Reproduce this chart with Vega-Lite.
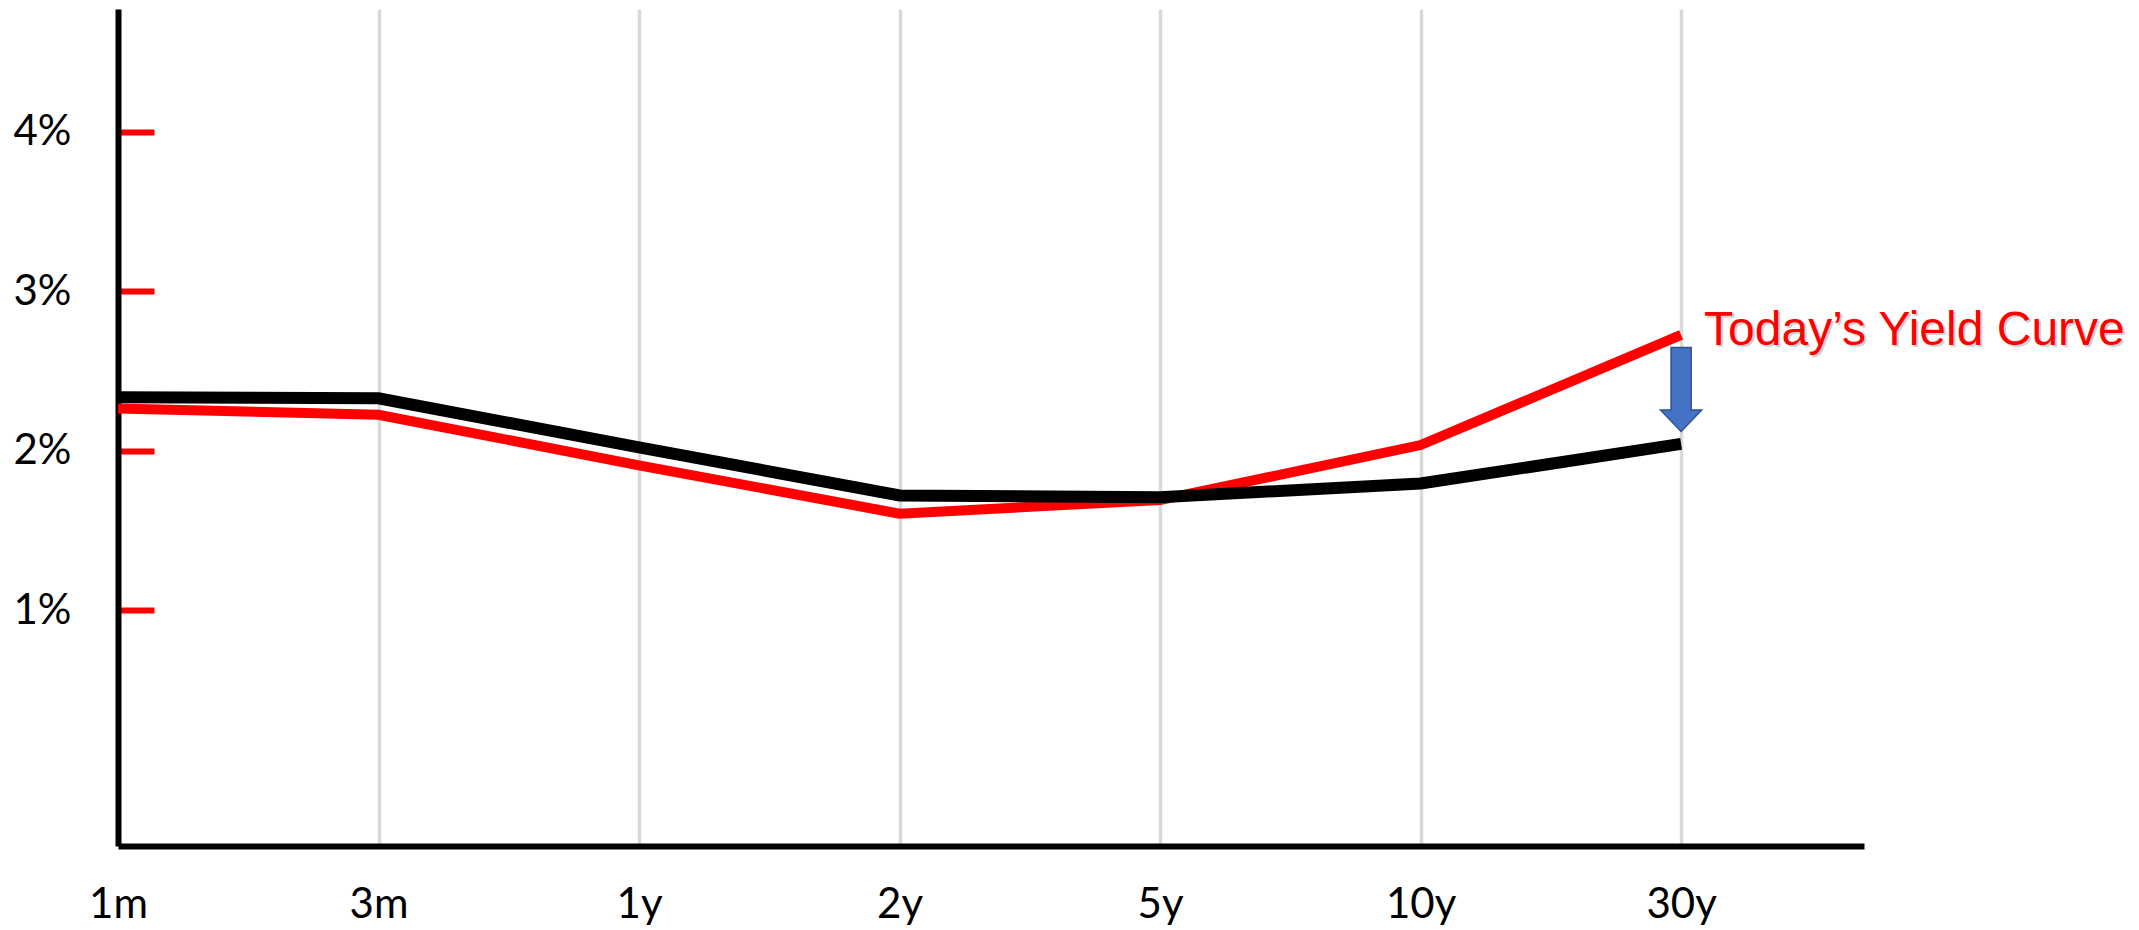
{
  "$schema": "https://vega.github.io/schema/vega-lite/v6.json",
  "width": 1746,
  "height": 837,
  "autosize": {"type": "none"},
  "padding": {"left": 118, "top": 9, "right": 275, "bottom": 84},
  "background": "white",
  "config": {"view": {"stroke": null}},
  "data": {
    "values": [
      {"curve": "today", "tenor": "1m", "rate": 2.265},
      {"curve": "today", "tenor": "3m", "rate": 2.226},
      {"curve": "today", "tenor": "1y", "rate": 1.909},
      {"curve": "today", "tenor": "2y", "rate": 1.606},
      {"curve": "today", "tenor": "5y", "rate": 1.692},
      {"curve": "today", "tenor": "10y", "rate": 2.036},
      {"curve": "today", "tenor": "30y", "rate": 2.726},
      {"curve": "new", "tenor": "1m", "rate": 2.335},
      {"curve": "new", "tenor": "3m", "rate": 2.329},
      {"curve": "new", "tenor": "1y", "rate": 2.022},
      {"curve": "new", "tenor": "2y", "rate": 1.72},
      {"curve": "new", "tenor": "5y", "rate": 1.709},
      {"curve": "new", "tenor": "10y", "rate": 1.795},
      {"curve": "new", "tenor": "30y", "rate": 2.043}
    ]
  },
  "encoding": {
    "x": {
      "field": "tenor",
      "type": "ordinal",
      "scale": {"type": "point", "domain": ["1m", "3m", "1y", "2y", "5y", "10y", "30y"], "padding": 0.351, "align": 0},
      "axis": {
        "title": null,
        "grid": true,
        "gridColor": "#D9D9D9",
        "gridWidth": 3.5,
        "ticks": false,
        "domainColor": "#000000",
        "domainWidth": 6,
        "labelFont": "Lato",
        "labelFontSize": 42,
        "labelColor": "#000000",
        "labelAngle": 0,
        "labelPadding": 38,
        "labelBaseline": "top"
      }
    },
    "y": {
      "field": "rate",
      "type": "quantitative",
      "scale": {"domain": [-0.476, 4.768], "nice": false, "zero": false},
      "axis": {
        "title": null,
        "grid": false,
        "values": [1, 2, 3, 4],
        "labelExpr": "datum.value + '%'",
        "domainColor": "#000000",
        "domainWidth": 6,
        "tickColor": "#FF0000",
        "tickWidth": 6,
        "tickSize": -36,
        "labelFont": "Lato",
        "labelFontSize": 42,
        "labelColor": "#000000",
        "labelPadding": 83
      }
    }
  },
  "layer": [
    {
      "transform": [{"filter": "datum.curve == 'today'"}],
      "mark": {"type": "line", "color": "#FF0000", "strokeWidth": 10, "strokeCap": "butt"}
    },
    {
      "transform": [{"filter": "datum.curve == 'new'"}],
      "mark": {"type": "line", "color": "#000000", "strokeWidth": 12, "strokeCap": "butt"}
    },
    {
      "transform": [{"filter": "datum.curve == 'today' && datum.tenor == '30y'"}],
      "mark": {"type": "text", "text": "Today’s Yield Curve", "font": "Liberation Sans", "fontSize": 48, "align": "left", "baseline": "alphabetic", "dx": 25, "dy": 12, "color": "#7F7F7F", "opacity": 0.35}
    },
    {
      "transform": [{"filter": "datum.curve == 'today' && datum.tenor == '30y'"}],
      "mark": {"type": "text", "text": "Today’s Yield Curve", "font": "Liberation Sans", "fontSize": 48, "align": "left", "baseline": "alphabetic", "dx": 23, "dy": 10, "color": "#FF0000"}
    },
    {
      "transform": [
        {"filter": "datum.tenor == '30y'"},
        {"aggregate": [{"op": "mean", "field": "rate", "as": "rate"}], "groupby": ["tenor"]}
      ],
      "mark": {
        "type": "point",
        "shape": "M-0.24,-1L0.24,-1L0.24,0.49L0.49,0.49L0,1L-0.49,0.49L-0.24,0.49Z",
        "size": 7056,
        "filled": true,
        "fill": "#4472C4",
        "stroke": "#2F528F",
        "strokeWidth": 1.5,
        "opacity": 1,
        "xOffset": 0
      }
    }
  ]
}
